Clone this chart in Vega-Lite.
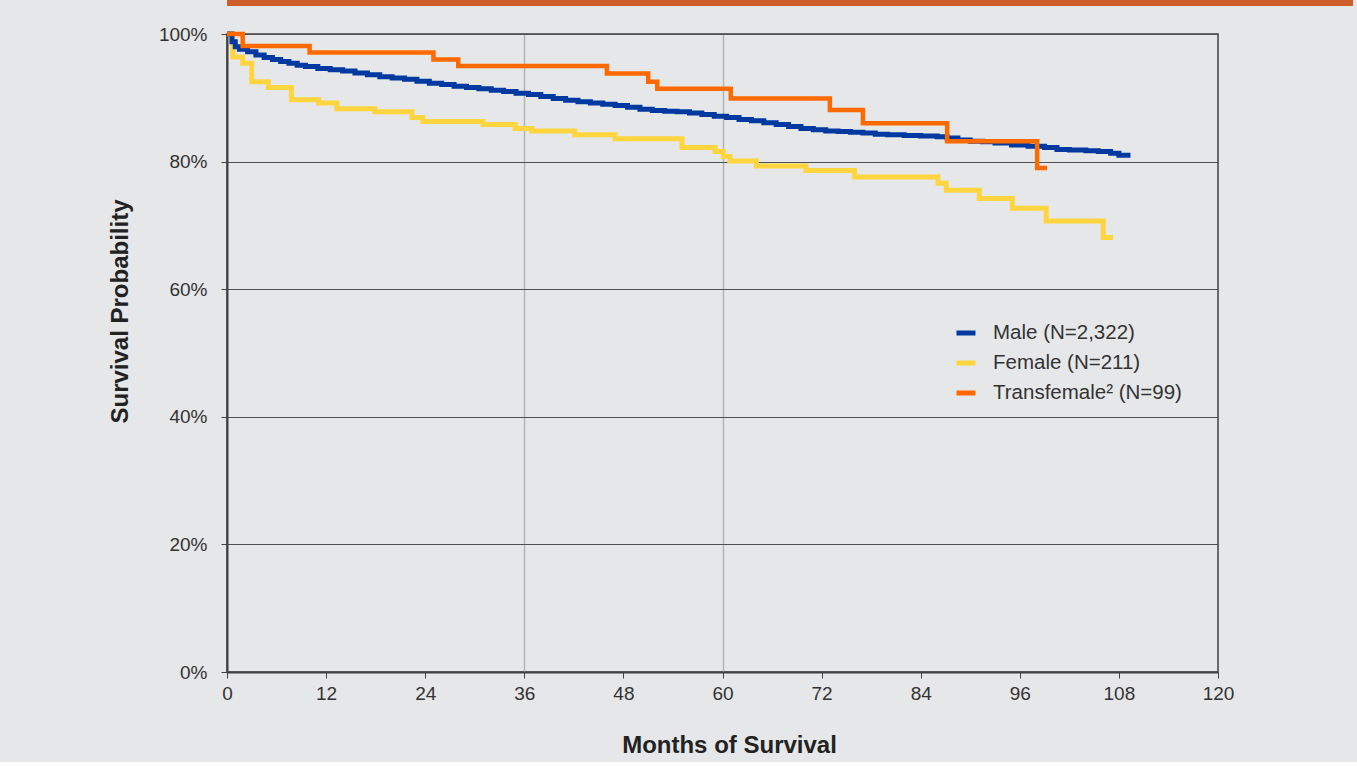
{
  "$schema": "https://vega.github.io/schema/vega-lite/v6.json",
  "background": "#E6E7E9",
  "autosize": {"type": "pad"},
  "padding": {"left": 107, "top": 0, "right": 4, "bottom": 4},
  "config": {"font": "Liberation Sans", "view": {"stroke": null}},
  "datasets": {
    "km": [
      {"group": "Female (N=211)", "month": 0, "surv": 100},
      {"group": "Female (N=211)", "month": 0.7, "surv": 96.4},
      {"group": "Female (N=211)", "month": 1.9, "surv": 95.4},
      {"group": "Female (N=211)", "month": 3.0, "surv": 92.5},
      {"group": "Female (N=211)", "month": 5.0, "surv": 91.6},
      {"group": "Female (N=211)", "month": 7.8, "surv": 89.7},
      {"group": "Female (N=211)", "month": 11.1, "surv": 89.2},
      {"group": "Female (N=211)", "month": 13.3, "surv": 88.3},
      {"group": "Female (N=211)", "month": 17.9, "surv": 87.8},
      {"group": "Female (N=211)", "month": 22.4, "surv": 86.9},
      {"group": "Female (N=211)", "month": 23.7, "surv": 86.3},
      {"group": "Female (N=211)", "month": 31.0, "surv": 85.8},
      {"group": "Female (N=211)", "month": 34.9, "surv": 85.2},
      {"group": "Female (N=211)", "month": 36.9, "surv": 84.8},
      {"group": "Female (N=211)", "month": 42.1, "surv": 84.2},
      {"group": "Female (N=211)", "month": 47.0, "surv": 83.6},
      {"group": "Female (N=211)", "month": 55.1, "surv": 82.2},
      {"group": "Female (N=211)", "month": 59.1, "surv": 81.6},
      {"group": "Female (N=211)", "month": 60.1, "surv": 80.8},
      {"group": "Female (N=211)", "month": 60.9, "surv": 80.1},
      {"group": "Female (N=211)", "month": 64.1, "surv": 79.3},
      {"group": "Female (N=211)", "month": 70.1, "surv": 78.6},
      {"group": "Female (N=211)", "month": 76.0, "surv": 77.6},
      {"group": "Female (N=211)", "month": 86.1, "surv": 76.6},
      {"group": "Female (N=211)", "month": 87.1, "surv": 75.5},
      {"group": "Female (N=211)", "month": 91.1, "surv": 74.2},
      {"group": "Female (N=211)", "month": 95.1, "surv": 72.7},
      {"group": "Female (N=211)", "month": 99.2, "surv": 70.7},
      {"group": "Female (N=211)", "month": 106.1, "surv": 68.1},
      {"group": "Female (N=211)", "month": 107.3, "surv": 68.1},

      {"group": "Male (N=2,322)", "month": 0, "surv": 100},
      {"group": "Male (N=2,322)", "month": 0.6, "surv": 98.8},
      {"group": "Male (N=2,322)", "month": 1.0, "surv": 98.0},
      {"group": "Male (N=2,322)", "month": 1.5, "surv": 97.6},
      {"group": "Male (N=2,322)", "month": 2.5, "surv": 97.2},
      {"group": "Male (N=2,322)", "month": 3.5, "surv": 96.7},
      {"group": "Male (N=2,322)", "month": 4.5, "surv": 96.3},
      {"group": "Male (N=2,322)", "month": 5.5, "surv": 96.0},
      {"group": "Male (N=2,322)", "month": 6.5, "surv": 95.7},
      {"group": "Male (N=2,322)", "month": 7.5, "surv": 95.4},
      {"group": "Male (N=2,322)", "month": 8.5, "surv": 95.1},
      {"group": "Male (N=2,322)", "month": 9.5, "surv": 94.9},
      {"group": "Male (N=2,322)", "month": 11.0, "surv": 94.6},
      {"group": "Male (N=2,322)", "month": 12.5, "surv": 94.4},
      {"group": "Male (N=2,322)", "month": 14.0, "surv": 94.2},
      {"group": "Male (N=2,322)", "month": 15.5, "surv": 93.9},
      {"group": "Male (N=2,322)", "month": 17.0, "surv": 93.6},
      {"group": "Male (N=2,322)", "month": 18.5, "surv": 93.3},
      {"group": "Male (N=2,322)", "month": 20.0, "surv": 93.1},
      {"group": "Male (N=2,322)", "month": 21.5, "surv": 92.9},
      {"group": "Male (N=2,322)", "month": 23.0, "surv": 92.6},
      {"group": "Male (N=2,322)", "month": 24.5, "surv": 92.3},
      {"group": "Male (N=2,322)", "month": 26.0, "surv": 92.1},
      {"group": "Male (N=2,322)", "month": 27.5, "surv": 91.8},
      {"group": "Male (N=2,322)", "month": 29.0, "surv": 91.6},
      {"group": "Male (N=2,322)", "month": 30.5, "surv": 91.4},
      {"group": "Male (N=2,322)", "month": 32.0, "surv": 91.2},
      {"group": "Male (N=2,322)", "month": 33.5, "surv": 91.0},
      {"group": "Male (N=2,322)", "month": 35.0, "surv": 90.7},
      {"group": "Male (N=2,322)", "month": 36.5, "surv": 90.5},
      {"group": "Male (N=2,322)", "month": 38.0, "surv": 90.2},
      {"group": "Male (N=2,322)", "month": 39.5, "surv": 89.9},
      {"group": "Male (N=2,322)", "month": 41.0, "surv": 89.6},
      {"group": "Male (N=2,322)", "month": 42.5, "surv": 89.4},
      {"group": "Male (N=2,322)", "month": 44.0, "surv": 89.2},
      {"group": "Male (N=2,322)", "month": 45.5, "surv": 89.0},
      {"group": "Male (N=2,322)", "month": 47.0, "surv": 88.8},
      {"group": "Male (N=2,322)", "month": 48.5, "surv": 88.5},
      {"group": "Male (N=2,322)", "month": 50.0, "surv": 88.2},
      {"group": "Male (N=2,322)", "month": 51.5, "surv": 88.0},
      {"group": "Male (N=2,322)", "month": 53.0, "surv": 87.9},
      {"group": "Male (N=2,322)", "month": 54.5, "surv": 87.8},
      {"group": "Male (N=2,322)", "month": 56.0, "surv": 87.6},
      {"group": "Male (N=2,322)", "month": 57.5, "surv": 87.4},
      {"group": "Male (N=2,322)", "month": 59.0, "surv": 87.1},
      {"group": "Male (N=2,322)", "month": 60.5, "surv": 86.9},
      {"group": "Male (N=2,322)", "month": 62.0, "surv": 86.6},
      {"group": "Male (N=2,322)", "month": 63.5, "surv": 86.4},
      {"group": "Male (N=2,322)", "month": 65.0, "surv": 86.1},
      {"group": "Male (N=2,322)", "month": 66.5, "surv": 85.8},
      {"group": "Male (N=2,322)", "month": 68.0, "surv": 85.5},
      {"group": "Male (N=2,322)", "month": 69.5, "surv": 85.2},
      {"group": "Male (N=2,322)", "month": 71.0, "surv": 85.0},
      {"group": "Male (N=2,322)", "month": 72.5, "surv": 84.8},
      {"group": "Male (N=2,322)", "month": 74.0, "surv": 84.7},
      {"group": "Male (N=2,322)", "month": 75.5, "surv": 84.6},
      {"group": "Male (N=2,322)", "month": 77.0, "surv": 84.5},
      {"group": "Male (N=2,322)", "month": 78.5, "surv": 84.3},
      {"group": "Male (N=2,322)", "month": 80.0, "surv": 84.2},
      {"group": "Male (N=2,322)", "month": 82.0, "surv": 84.1},
      {"group": "Male (N=2,322)", "month": 84.0, "surv": 84.0},
      {"group": "Male (N=2,322)", "month": 86.0, "surv": 83.9},
      {"group": "Male (N=2,322)", "month": 87.2, "surv": 83.7},
      {"group": "Male (N=2,322)", "month": 88.5, "surv": 83.4},
      {"group": "Male (N=2,322)", "month": 90.0, "surv": 83.2},
      {"group": "Male (N=2,322)", "month": 91.5, "surv": 83.1},
      {"group": "Male (N=2,322)", "month": 93.0, "surv": 82.9},
      {"group": "Male (N=2,322)", "month": 95.0, "surv": 82.6},
      {"group": "Male (N=2,322)", "month": 97.0, "surv": 82.4},
      {"group": "Male (N=2,322)", "month": 99.0, "surv": 82.2},
      {"group": "Male (N=2,322)", "month": 100.5, "surv": 81.9},
      {"group": "Male (N=2,322)", "month": 102.0, "surv": 81.8},
      {"group": "Male (N=2,322)", "month": 104.0, "surv": 81.7},
      {"group": "Male (N=2,322)", "month": 105.5, "surv": 81.6},
      {"group": "Male (N=2,322)", "month": 107.0, "surv": 81.3},
      {"group": "Male (N=2,322)", "month": 108.0, "surv": 81.0},
      {"group": "Male (N=2,322)", "month": 109.4, "surv": 81.0},

      {"group": "Transfemale² (N=99)", "month": 0, "surv": 100},
      {"group": "Transfemale² (N=99)", "month": 1.9, "surv": 98.1},
      {"group": "Transfemale² (N=99)", "month": 10.0, "surv": 97.1},
      {"group": "Transfemale² (N=99)", "month": 25.0, "surv": 96.0},
      {"group": "Transfemale² (N=99)", "month": 28.0, "surv": 95.0},
      {"group": "Transfemale² (N=99)", "month": 46.0, "surv": 93.8},
      {"group": "Transfemale² (N=99)", "month": 51.0, "surv": 92.5},
      {"group": "Transfemale² (N=99)", "month": 52.1, "surv": 91.4},
      {"group": "Transfemale² (N=99)", "month": 61.0, "surv": 89.9},
      {"group": "Transfemale² (N=99)", "month": 73.0, "surv": 88.1},
      {"group": "Transfemale² (N=99)", "month": 77.0, "surv": 86.0},
      {"group": "Transfemale² (N=99)", "month": 87.2, "surv": 83.2},
      {"group": "Transfemale² (N=99)", "month": 98.1, "surv": 79.0},
      {"group": "Transfemale² (N=99)", "month": 99.3, "surv": 79.0}
    ]
  },
  "bounds": "flush",
  "spacing": 28,
  "vconcat": [
    {
      "width": 1126,
      "height": 6,
      "view": {"fill": "#CF5F2A", "stroke": null},
      "data": {"values": [{}]},
      "mark": {"type": "point", "opacity": 0}
    },
    {
      "width": 991,
      "height": 638,
      "view": {"stroke": "#404040", "strokeWidth": 1.5},
      "data": {"name": "km"},
      "encoding": {
        "x": {
          "field": "month",
          "type": "quantitative",
          "scale": {"domain": [0, 120], "nice": false},
          "axis": {
            "values": [0, 12, 24, 36, 48, 60, 72, 84, 96, 108, 120],
            "labelFontSize": 19,
            "labelColor": "#333333",
            "labelPadding": 6,
            "labelFlush": false,
            "tickSize": 6,
            "tickColor": "#404040",
            "domainColor": "#404040",
            "domainWidth": 2,
            "grid": true,
            "gridColor": "#B4B4B4",
            "gridWidth": 1.5,
            "gridOpacity": {"condition": {"test": "datum.value === 36 || datum.value === 60", "value": 1}, "value": 0},
            "title": "Months of Survival",
            "titleFontSize": 24,
            "titleFontWeight": "bold",
            "titleColor": "#222222",
            "titleX": 502,
            "titleY": 73,
            "titleAlign": "center",
            "titleBaseline": "middle"
          }
        },
        "y": {
          "field": "surv",
          "type": "quantitative",
          "scale": {"domain": [0, 100], "nice": false},
          "axis": {
            "values": [0, 20, 40, 60, 80, 100],
            "labelExpr": "datum.value + '%'",
            "labelFontSize": 19,
            "labelColor": "#333333",
            "labelPadding": 14,
            "labelFlush": false,
            "tickSize": 6,
            "tickColor": "#404040",
            "domainColor": "#404040",
            "domainWidth": 2,
            "grid": true,
            "gridColor": "#505050",
            "gridWidth": 1.2,
            "title": "Survival Probability",
            "titleFontSize": 24,
            "titleFontWeight": "bold",
            "titleColor": "#222222",
            "titleAngle": -90,
            "titleX": -107,
            "titleY": 277,
            "titleAlign": "center",
            "titleBaseline": "middle"
          }
        },
        "color": {
          "field": "group",
          "type": "nominal",
          "scale": {
            "domain": ["Male (N=2,322)", "Female (N=211)", "Transfemale² (N=99)"],
            "range": ["#0039A0", "#FFD53F", "#FF6A00"]
          },
          "legend": {
            "orient": "none",
            "legendX": 727,
            "legendY": 321,
            "title": null,
            "symbolType": "stroke",
            "symbolStrokeWidth": 5,
            "symbolSize": 361,
            "labelFontSize": 20.5,
            "labelColor": "#333333",
            "labelOffset": 15,
            "labelLimit": 400,
            "rowPadding": 7,
            "padding": 0
          }
        }
      },
      "layer": [
        {
          "transform": [{"filter": "datum.group === 'Female (N=211)'"}],
          "mark": {"type": "line", "interpolate": "step-after", "strokeWidth": 5}
        },
        {
          "transform": [{"filter": "datum.group === 'Male (N=2,322)'"}],
          "mark": {"type": "line", "interpolate": "step-after", "strokeWidth": 5}
        },
        {
          "transform": [{"filter": "datum.group === 'Transfemale² (N=99)'"}],
          "mark": {"type": "line", "interpolate": "step-after", "strokeWidth": 4.5}
        }
      ]
    }
  ]
}
